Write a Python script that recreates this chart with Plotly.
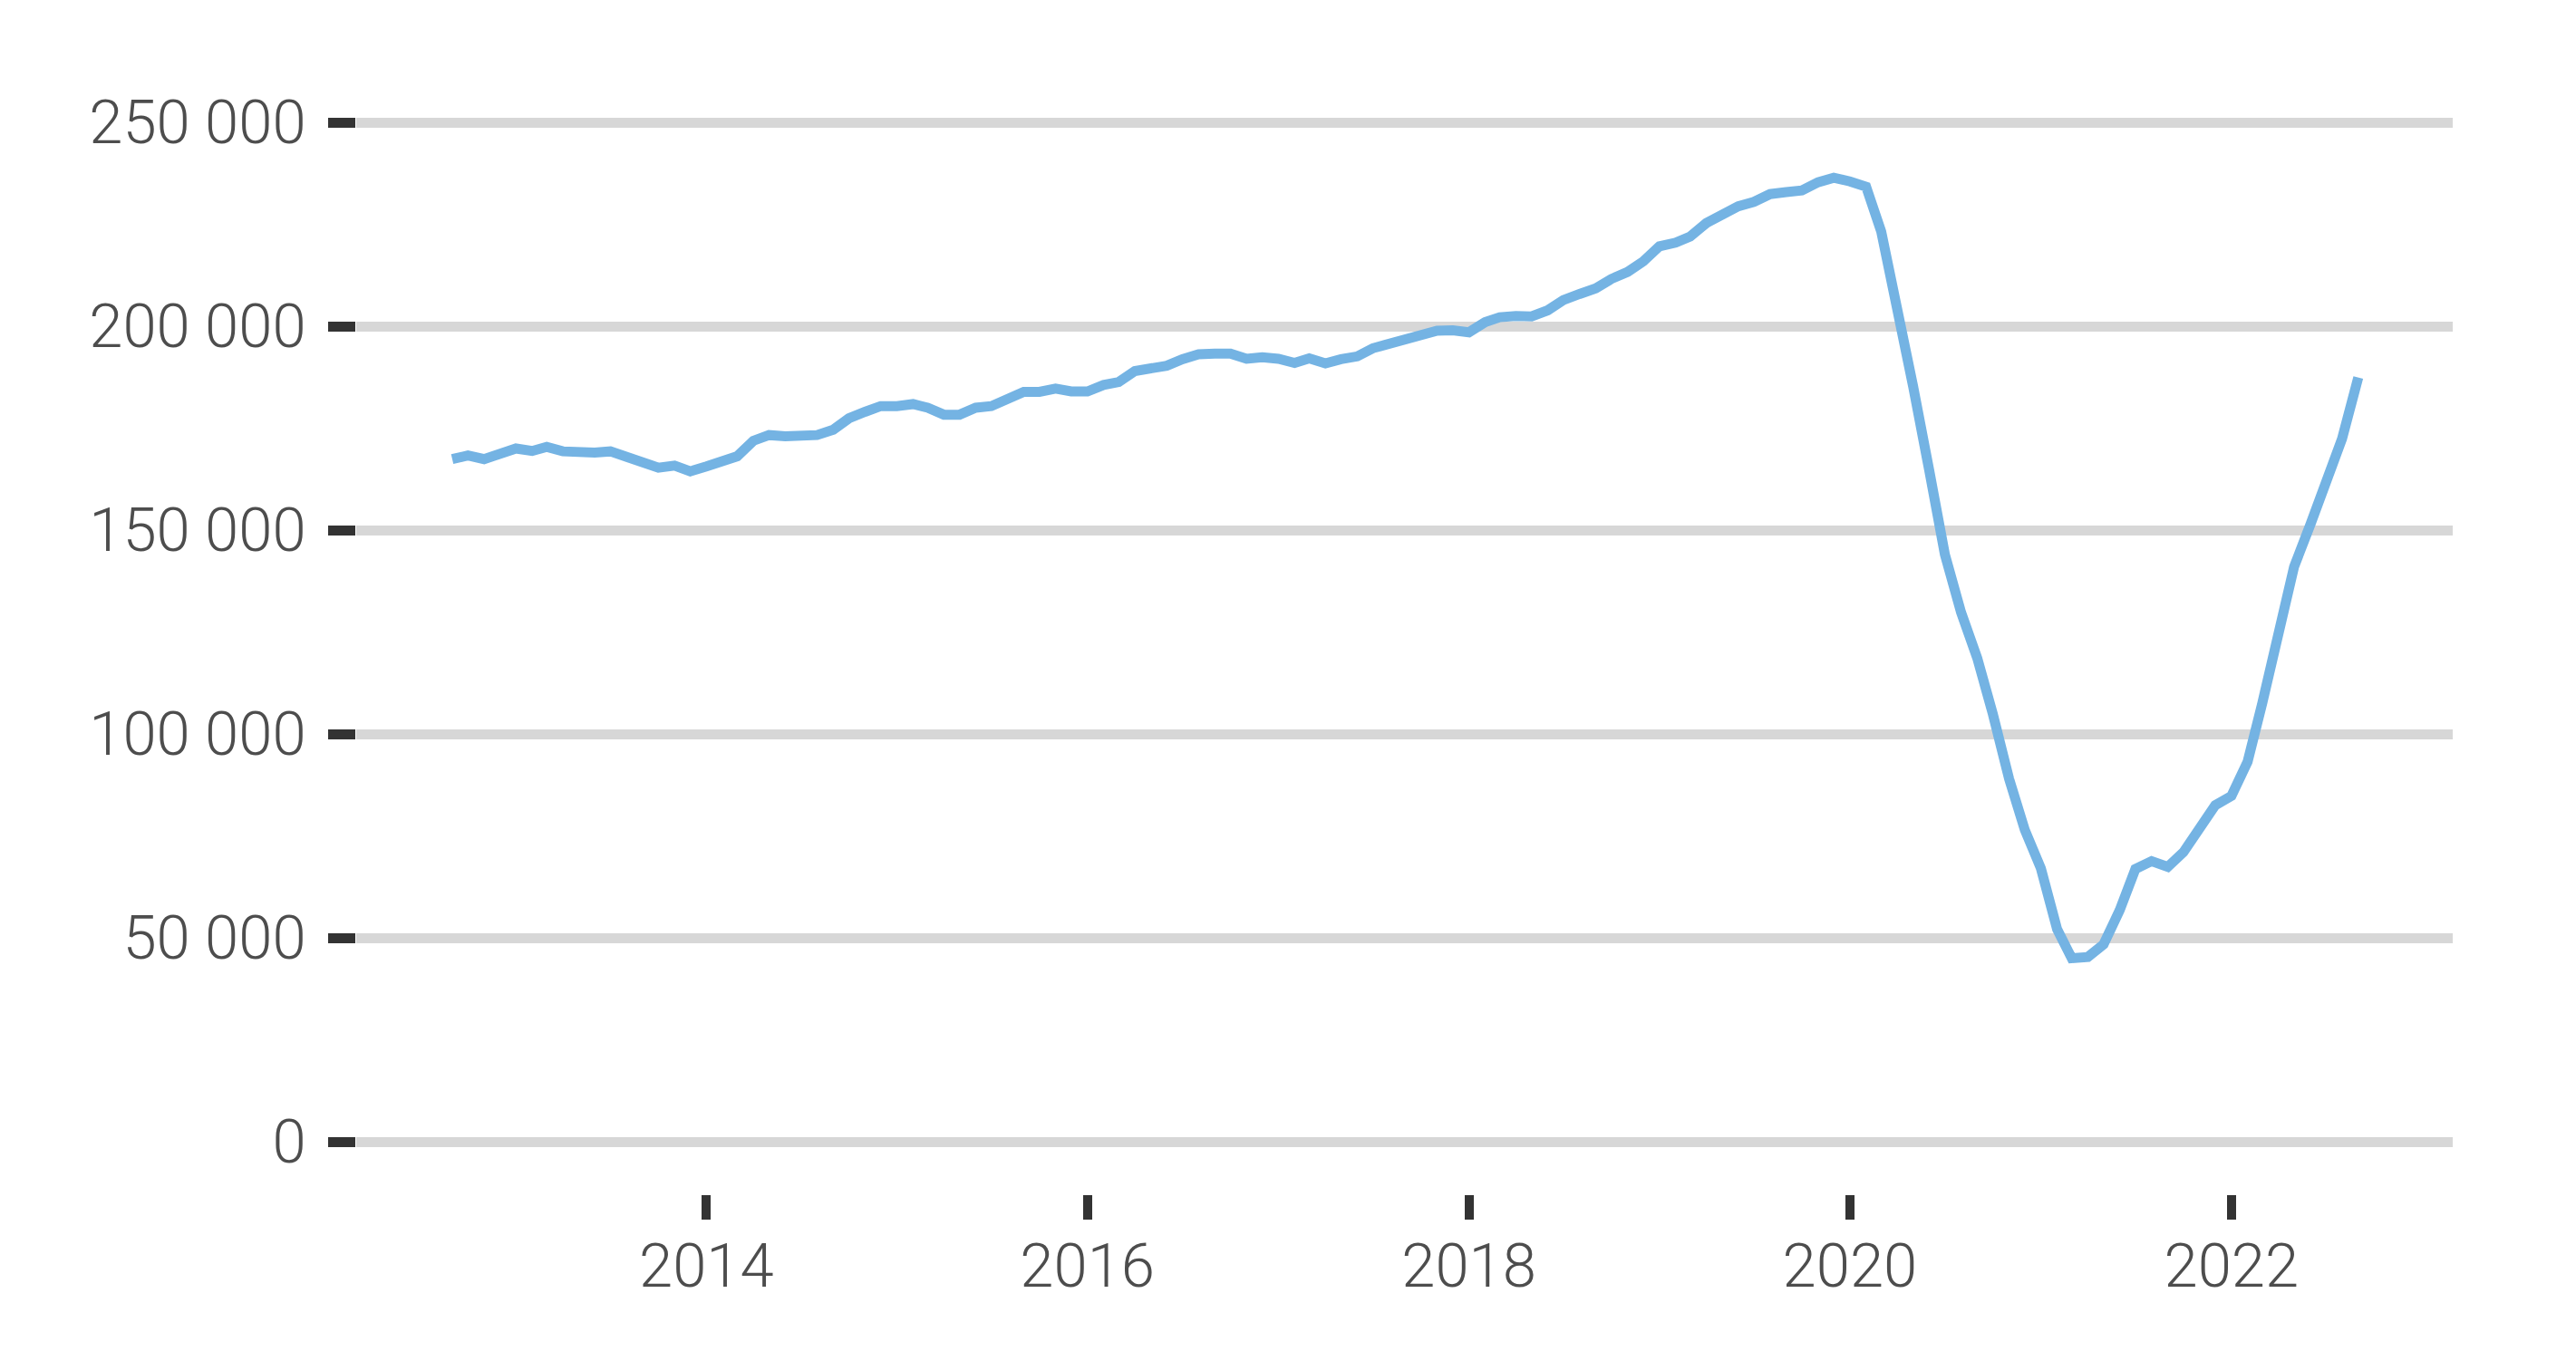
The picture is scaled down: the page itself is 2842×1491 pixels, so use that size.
import pandas as pd
import plotly.graph_objects as go

# Monthly values, Sep 2012 .. Sep 2022
values = [
    167400, 168300, 167400, 169000,
    170000, 169400, 170400, 169300, 168900, 169000, 169300, 168100, 166300, 165300, 165800, 164400,
    165600, 166700, 168100, 171900, 173300, 173000, 173300, 173300, 174600, 177400, 179000, 180400,
    180400, 180900, 180000, 178300, 178300, 180000, 180400, 182400, 183900, 183900, 184700, 184000,
    184000, 185600, 186300, 189000, 189800, 190300, 191900, 193100, 193300, 193300, 192000, 192400,
    192000, 191000, 192100, 190900, 191900, 192600, 194600, 195600, 197000, 197800, 198900, 199000,
    198500, 201000, 202200, 202500, 202400, 203900, 206400, 207900, 209300, 211600, 213300, 215900,
    219600, 220500, 222000, 225300, 227300, 229400, 230500, 232400, 232900, 233300, 235300, 236400,
    235500, 234200, 223200, 204500, 185300, 164600, 144000, 129800, 118600, 104800, 89000, 76500,
    67000, 52100, 45000, 45300, 48400, 56800, 66900, 68800, 67400, 71000, 76800, 82500,
    84800, 93200, 107500, 125300, 141000, 151300, 161700, 172400, 187400,
]
start_month = "2012-09-01"
dates = pd.date_range(start_month, periods=len(values), freq="MS")

y_tickvals = [0, 50000, 100000, 150000, 200000, 250000]
y_ticktext = ["0", "50 000", "100 000", "150 000", "200 000", "250 000"]
x_tickvals = ["2014-01-01", "2016-01-01", "2018-01-01", "2020-01-01", "2022-01-01"]
x_ticktext = ["2014", "2016", "2018", "2020", "2022"]

W, H = 2842, 1491
off = 8  # page body offset
plot_left, plot_right, plot_top, plot_bottom = 393, 2706, 100, 1318
ml = plot_left - off
mt = plot_top - off
mr = W - ml - (plot_right - plot_left)
mb = H - mt - (plot_bottom - plot_top)
plot_h = plot_bottom - plot_top
per_px = 50000 / 225.0
y_min = -(plot_bottom - 1260) * per_px
y_max = y_min + plot_h * per_px

fig = go.Figure()
fig.add_trace(go.Scatter(
    x=dates, y=values, mode="lines",
    line=dict(color="#74b3e3", width=11),
    hoverinfo="skip", showlegend=False,
))

tick_font = dict(family="Roboto", size=67, color="#4d4d4d", weight=300)

fig.update_layout(
    width=W, height=H,
    margin=dict(l=ml, r=mr, t=mt, b=mb, pad=0),
    paper_bgcolor="white", plot_bgcolor="white",
    showlegend=False,
    xaxis=dict(
        type="date",
        range=["2012-03-01", "2023-03-01"],
        tickvals=x_tickvals, ticktext=x_ticktext,
        showgrid=False, zeroline=False, showline=False,
        ticks="outside", ticklen=27, tickwidth=10, tickcolor="#333333",
        tickfont=tick_font, ticklabelstandoff=-6,
    ),
    yaxis=dict(
        range=[y_min, y_max],
        tickvals=y_tickvals, ticktext=y_ticktext,
        showgrid=True, gridcolor="#d7d7d7", gridwidth=11,
        zeroline=False, showline=False,
        ticks="outside", ticklen=30, tickwidth=11, tickcolor="#333333",
        tickfont=tick_font, ticklabelstandoff=11,
    ),
)

fig.write_html("out.html")
